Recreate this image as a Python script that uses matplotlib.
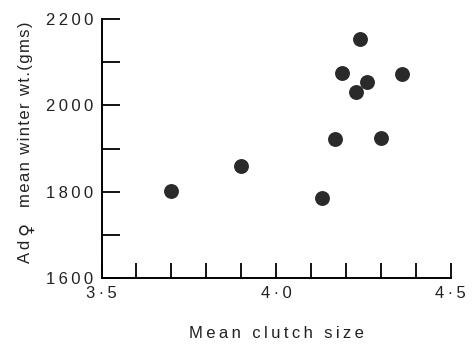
import matplotlib
matplotlib.use("Agg")
import matplotlib.pyplot as plt
import matplotlib.transforms as mtransforms
import numpy as np

# data
clutch = [3.70, 3.90, 4.13, 4.17, 4.30, 4.19, 4.24, 4.26, 4.23, 4.36]
weight = [1802, 1860, 1785, 1921, 1924, 2076, 2154, 2055, 2032, 2072]

x_ticks = [3.5, 3.6, 3.7, 3.8, 3.9, 4.0, 4.1, 4.2, 4.3, 4.4, 4.5]
x_labels = ["3·5", "", "", "", "", "4·0", "", "", "", "", "4·5"]
y_ticks = [1600, 1700, 1800, 1900, 2000, 2100, 2200]
y_labels = ["1600", "", "1800", "", "2000", "", "2200"]

# y label is drawn in pieces so the female sign can be bigger
ylabel_parts = ["Ad", "♀", "mean winter wt.(gms)"]
ylabel_sizes = [12, 13, 12]
ylabel_fonts = ["Liberation Sans", "DejaVu Sans", "Liberation Sans"]
ylabel_bottoms = [82, 110, 138]   # pixels from the bottom of the figure
main_len = 194                    # wanted length of the long piece, pixels

SEPS = ["", "\u200a", "\u2006", "\u2009"]


def spaced(s, sep="\u2009"):
    return sep.join(list(s))


plt.rcParams['font.family'] = ["Liberation Sans", "DejaVu Sans"]
ink = "#222222"

fig = plt.figure(figsize=(4.73, 3.45), dpi=100)
ax = fig.add_axes([0.2146, 0.1942, 0.7383, 0.7507])

ax.scatter(clutch, weight, s=115, color="#2a2a2a", zorder=3, linewidths=0)

ax.set_xlim(3.5, 4.5)
ax.set_ylim(1600, 2200)
ax.spines['top'].set_visible(False)
ax.spines['right'].set_visible(False)
ax.spines['left'].set_linewidth(1.4)
ax.spines['bottom'].set_linewidth(1.4)

ax.set_xticks(x_ticks)
ax.set_xticklabels([spaced(t) for t in x_labels], fontsize=12, color=ink)
ax.set_yticks(y_ticks)
ax.set_yticklabels([spaced(t) for t in y_labels], fontsize=12, color=ink)
ax.tick_params(axis='x', direction='in', length=11, width=1.3, pad=6)
ax.tick_params(axis='y', direction='in', length=13, width=1.3, pad=6)

ax.set_xlabel(spaced("Mean clutch size"), fontsize=12, color=ink, labelpad=18)

# y label pieces, placed in pixels
renderer = fig.canvas.get_renderer()
px = mtransforms.IdentityTransform()
for i, (part, size, fam, y0) in enumerate(zip(ylabel_parts, ylabel_sizes,
                                             ylabel_fonts, ylabel_bottoms)):
    kw = dict(rotation=90, ha='center', va='bottom', fontsize=size,
              family=[fam, "DejaVu Sans"], color=ink, transform=px)
    if i == len(ylabel_parts) - 1:
        # pick the letter spacing that gives the closest length
        best, best_err = "", None
        for sep in SEPS:
            t = fig.text(26, y0, spaced(part, sep), **kw)
            err = abs(t.get_window_extent(renderer).height - main_len)
            t.remove()
            if best_err is None or err < best_err:
                best, best_err = sep, err
        fig.text(26, y0, spaced(part, best), **kw)
    else:
        fig.text(26, y0, spaced(part, "\u2006"), **kw)

fig.savefig("out.png", dpi=100)
